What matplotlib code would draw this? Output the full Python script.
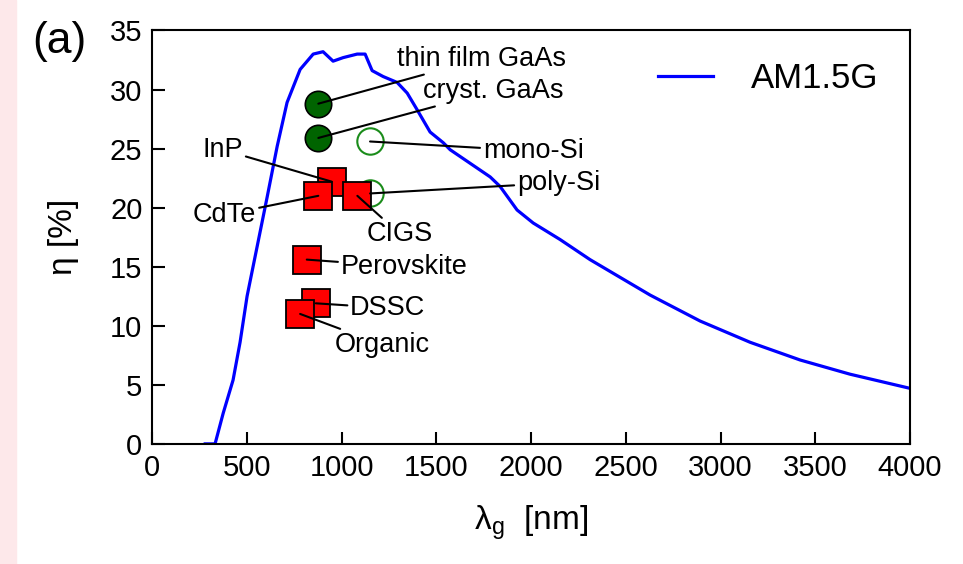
import matplotlib
matplotlib.use('Agg')
import matplotlib.pyplot as plt
from matplotlib.patches import Rectangle

plt.rcParams['font.family'] = ['Liberation Sans', 'DejaVu Sans']

# AM1.5G limit curve
lam = [280, 332, 375, 427, 464, 501, 554, 607, 660, 712, 781, 850, 902, 955, 1008, 1082,
       1124, 1161, 1219, 1293, 1346, 1398, 1467, 1536, 1573, 1784, 1836, 1926, 2011, 2153,
       2311, 2628, 2892, 3156, 3420, 3683, 4000]
eff = [0.0, 0.0, 2.6, 5.4, 8.6, 12.5, 16.7, 20.9, 25.2, 28.9, 31.7, 33.0, 33.2, 32.4, 32.7, 33.0,
       33.0, 31.6, 31.1, 30.6, 29.7, 28.3, 26.4, 25.5, 24.9, 22.6, 21.8, 19.8, 18.7, 17.3,
       15.6, 12.6, 10.4, 8.6, 7.1, 5.9, 4.7]

# record cells: name, bandgap wavelength, efficiency
gaas_names = ['thin film GaAs', 'cryst. GaAs']
gaas_x = [877, 877]
gaas_y = [28.8, 25.9]

si_names = ['mono-Si', 'poly-Si']
si_x = [1150, 1150]
si_y = [25.6, 21.2]

sq_names = ['InP', 'CdTe', 'CIGS', 'Perovskite', 'DSSC', 'Organic']
sq_x = [948, 877, 1083, 816, 864, 781]
sq_y = [22.2, 21.0, 21.0, 15.6, 11.9, 11.0]

# label text anchors (data coords)
lab_pos = {
    'thin film GaAs': (1290, 32.6), 'cryst. GaAs': (1430, 29.9),
    'mono-Si': (1745, 24.8), 'poly-Si': (1925, 22.1),
    'InP': (480, 24.9), 'CdTe': (550, 19.4), 'CIGS': (1130, 17.8),
    'Perovskite': (995, 15.0), 'DSSC': (1045, 11.5), 'Organic': (965, 8.4),
}
lab_ha = {'InP': 'right', 'CdTe': 'right'}

fig = plt.figure(figsize=(9.63, 5.64), dpi=100)
fig.patches.append(Rectangle((0, 0), 16 / 963, 1, transform=fig.transFigure,
                             color='#fde8ea', zorder=0))
ax = fig.add_axes([0.158, 0.213, 0.787, 0.733])

ax.plot(lam, eff, color='blue', lw=2.3, label='AM1.5G', zorder=2)

ax.plot(gaas_x, gaas_y, 'o', ms=19, mfc='#006400', mec='black', mew=1.2, zorder=4)
ax.plot(si_x, si_y, 'o', ms=19, mfc='none', mec='#1a8c1a', mew=1.5, zorder=4)
ax.plot(sq_x, sq_y, 's', ms=20, mfc='#ff0000', mec='black', mew=1.3, zorder=4)

all_names = gaas_names + si_names + sq_names
all_x = gaas_x + si_x + sq_x
all_y = gaas_y + si_y + sq_y
for n, x, y in zip(all_names, all_x, all_y):
    tx, ty = lab_pos[n]
    ax.annotate(n, xy=(x, y), xytext=(tx, ty), fontsize=19.5, ha=lab_ha.get(n, 'left'),
                va='center', zorder=5,
                arrowprops=dict(arrowstyle='-', color='black', lw=1.5, shrinkA=0, shrinkB=0))

ax.set_xlim(0, 4000)
ax.set_ylim(0, 35)
ax.set_xticks(range(0, 4001, 500))
ax.set_yticks(range(0, 36, 5))
ax.tick_params(direction='in', length=9, width=1.5, labelsize=21, top=False, right=False, pad=7)
for s in ax.spines.values():
    s.set_linewidth(1.5)

ax.set_xlabel(r'$\mathregular{\lambda_g}$  [nm]', fontsize=24, labelpad=16)
ax.set_ylabel('η [%]', fontsize=24, labelpad=22)
fig.text(0.033, 0.927, '(a)', fontsize=32, va='center')

ax.legend(loc='upper right', frameon=False, fontsize=25, handlelength=1.6, handletextpad=1.1)

fig.savefig('out.png', dpi=100)
